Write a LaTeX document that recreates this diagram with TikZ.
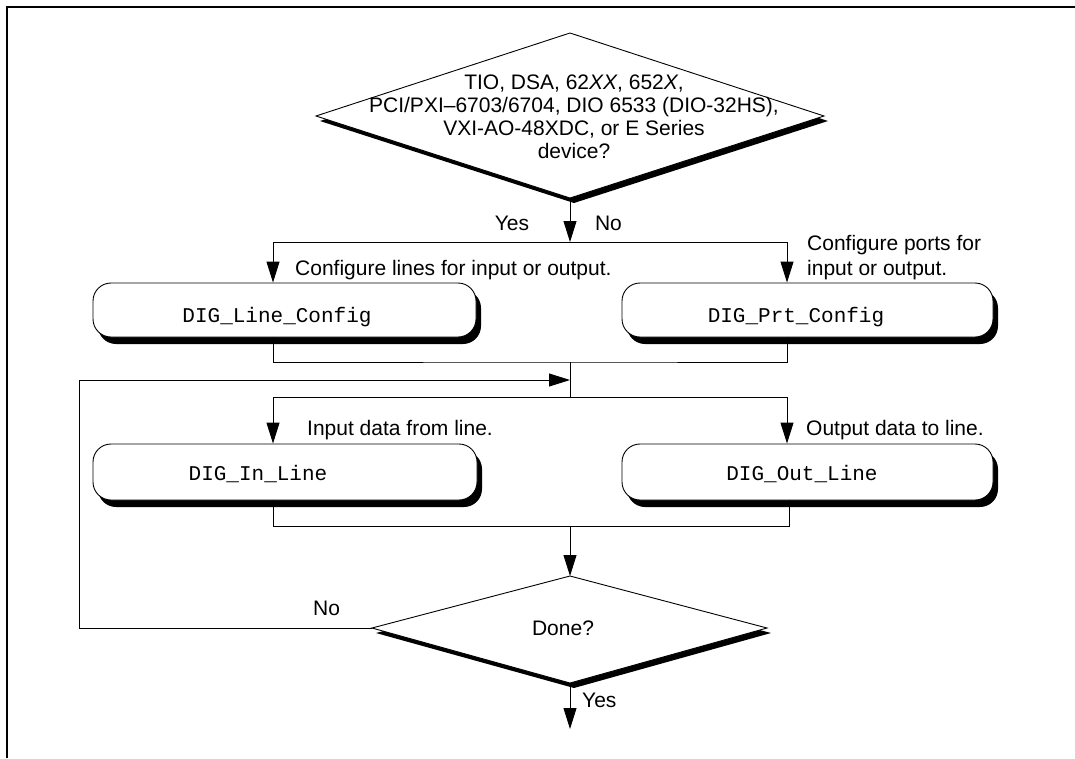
\documentclass[tikz,border=0pt]{standalone}
\usepackage{fontspec}
\setmainfont{Liberation Sans}
\setmonofont{Liberation Mono}
\usetikzlibrary{arrows.meta,shadows}
\begin{document}
\begin{tikzpicture}[x=1pt,y=-1pt,
  line/.style={line width=0.9pt},
  arr/.style={line width=0.9pt,-{Triangle[length=21pt,width=13pt]}},
  shad/.style={drop shadow={shadow xshift=5pt,shadow yshift=-7pt,fill=black,opacity=1}},
  dshad/.style={drop shadow={shadow xshift=4pt,shadow yshift=-5pt,fill=black,opacity=1}},
  box/.style={draw,line width=0.9pt,fill=white,rounded corners=18pt,minimum height=54pt,inner sep=0pt,shad},
  lbl/.style={font=\fontsize{21}{24}\selectfont,inner sep=0pt},
  code/.style={font=\ttfamily\fontsize{21}{24}\selectfont,inner sep=0pt,anchor=base},
]
\useasboundingbox (0,0) rectangle (1075,758);
\draw[line width=2.5pt] (1075,7) -- (7,7) -- (7,758);

% decision 1
\coordinate (d1t) at (570,33);
\coordinate (d1r) at (824,116);
\coordinate (d1b) at (570,198);
\coordinate (d1l) at (316,116);
\path[draw,fill=white,line width=0.9pt,dshad] (d1t) -- (d1r) -- (d1b) -- (d1l) -- cycle;
\node[lbl,align=center,font=\fontsize{21}{23}\selectfont] (q1) at (574,117)
  {TIO, DSA, 62\textit{XX}, 652\textit{X},\\PCI/PXI–6703/6704, DIO 6533 (DIO-32HS),\\VXI-AO-48XDC, or E Series\\device?};

% boxes
\node[box,minimum width=383pt] (lc) at (284.5,310) {};
\node[box,minimum width=371pt] (pc) at (807.5,310) {};
\node[box,minimum width=384pt,minimum height=56pt] (il) at (285,472) {};
\node[box,minimum width=371pt,minimum height=56pt] (ol) at (807.5,472) {};
\node[code] (lct) at (277,322) {DIG\_Line\_Config};
\node[code] (pct) at (796,322) {DIG\_Prt\_Config};
\node[code] (ilt) at (258,480) {DIG\_In\_Line};
\node[code] (olt) at (802,480) {DIG\_Out\_Line};

% decision 2
\coordinate (d2t) at (570,576);
\coordinate (d2r) at (767,628);
\coordinate (d2b) at (570,683);
\coordinate (d2l) at (372,628);
\path[draw,fill=white,line width=0.9pt,dshad] (d2t) -- (d2r) -- (d2b) -- (d2l) -- cycle;
\node[lbl] (q2) at (563,628.5) {Done?};

% junction points
\coordinate (s1) at (570,242);
\coordinate (m1) at (570,362);
\coordinate (s2) at (570,397);
\coordinate (m2) at (570,526);
\coordinate (lp) at (79,380);
\coordinate (lpin) at (570,380);
\coordinate (fin) at (570,729);

% connectors
\draw[arr] (d1b) -- (s1);
\draw[arr] (s1) -| ([xshift=-11.5pt]lc.north);
\draw[arr] (s1) -| ([xshift=-20.5pt]pc.north);
\draw[line] ([xshift=-11.5pt]lc.south) |- (m1) -| ([xshift=-20.5pt]pc.south);
\draw[line] (m1) -- (s2);
\draw[arr] (s2) -| ([xshift=-12pt]il.north);
\draw[arr] (s2) -| ([xshift=-20.5pt]ol.north);
\draw[line] ([xshift=-12pt]il.south) |- (m2) -| ([xshift=-18.5pt]ol.south);
\draw[arr] (m2) -- (d2t);
\draw[arr] (d2b) -- (fin);
\draw[arr] (d2l) -| (lp) -- (lpin);

% labels
\node[lbl,anchor=base] (yes1) at (512,230) {Yes};
\node[lbl,anchor=base] (no1) at (608.5,230) {No};
\node[lbl,anchor=base west] (t1) at (295,275) {Configure lines for input or output.};
\node[lbl,anchor=west,align=left,font=\fontsize{21}{25}\selectfont] (t2) at (807,258) {Configure ports for\\input or output.};
\node[lbl,anchor=base west] (t3) at (307,435) {Input data from line.};
\node[lbl,anchor=base west] (t4) at (806,435) {Output data to line.};
\node[lbl,anchor=base west] (no2) at (313,615) {No};
\node[lbl,anchor=base west] (yes2) at (582,707) {Yes};
\end{tikzpicture}
\end{document}
